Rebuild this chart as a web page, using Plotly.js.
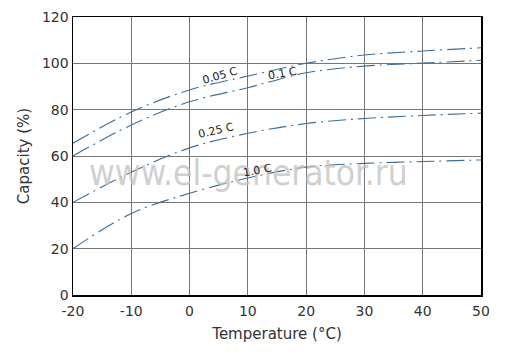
<!DOCTYPE html>
<html><head><meta charset="utf-8">
<script src="https://cdn.plot.ly/plotly-3.0.1.min.js"></script>
<style>html,body{margin:0;padding:0;background:#fff}#chart{width:508px;height:363px}</style>
</head><body><div id="chart"></div>
<script>
const temperature = [-20, -10, 0, 10, 20, 30, 40, 50];
const cap005 = [65.5, 79, 88.5, 94.5, 100, 103.6, 105.3, 106.7];
const cap01  = [60, 73.4, 83.4, 89.5, 95.9, 98.8, 100.1, 101.3];
const cap025 = [40, 53, 63.5, 69.8, 74, 76.2, 77.5, 78.5];
const cap10  = [20, 35.2, 43.9, 50.5, 55.2, 56.8, 57.6, 58.3];
const seriesNames = ["0.05 C", "0.1 C", "0.25 C", "1.0 C"];
const xTicks = [-20, -10, 0, 10, 20, 30, 40, 50];
const xTickText = ["-20", "-10", "0", "10", "20", "30", "40", "50"];
const yTicks = [0, 20, 40, 60, 80, 100, 120];

const lineStyle = {color: '#3f6e92', width: 1.1, dash: '18px,5px,2px,5px', shape: 'spline', smoothing: 1};
const data = [cap005, cap01, cap025, cap10].map((ys, i) => ({
  x: temperature, y: ys, type: 'scatter', mode: 'lines', name: seriesNames[i],
  line: lineStyle, hoverinfo: 'skip'
}));

const fam = '"DejaVu Sans", sans-serif';
const lab = (text, x, y, ang) => ({text, x, y, xref: 'x', yref: 'y', showarrow: false,
  textangle: ang, font: {family: fam, size: 11, color: '#222'}});

const layout = {
  width: 508, height: 363,
  margin: {l: 73, r: 27, t: 17, b: 68},
  paper_bgcolor: '#fff', plot_bgcolor: '#fff',
  showlegend: false,
  font: {family: fam, color: '#333'},
  xaxis: {range: [-20, 50], tickvals: xTicks, ticktext: xTickText, ticks: '', showgrid: true, gridcolor: '#777', gridwidth: 1,
    zeroline: false, showline: true, linecolor: '#000', linewidth: 1.5, mirror: true,
    tickfont: {size: 14, color: '#333'}, ticklabelstandoff: 3,
    title: {text: 'Temperature (°C)', font: {size: 15, color: '#333'}, standoff: 10}},
  yaxis: {range: [0, 120], tickvals: yTicks, ticks: '', showgrid: true, gridcolor: '#777', gridwidth: 1,
    zeroline: false, showline: true, linecolor: '#000', linewidth: 1.5, mirror: true,
    tickfont: {size: 14, color: '#333'},
    title: {text: 'Capacity (%)', font: {size: 15, color: '#333'}, standoff: 8}},
  annotations: [
    {text: 'www.el-generator.ru', xref: 'paper', yref: 'paper', x: 0.43, y: 0.44, showarrow: false,
     font: {family: '"Liberation Sans Narrow", "DejaVu Sans Condensed", sans-serif', size: 35, color: 'rgba(195,195,195,0.8)'}},
    lab('0.05 C', 5.3, 94.8, -16),
    lab('0.1 C', 16.0, 95.6, -10),
    lab('0.25 C', 4.6, 71.2, -13),
    lab('1.0 C', 11.7, 53.6, -10)
  ]
};
Plotly.newPlot('chart', data, layout, {staticPlot: true});
</script></body></html>
